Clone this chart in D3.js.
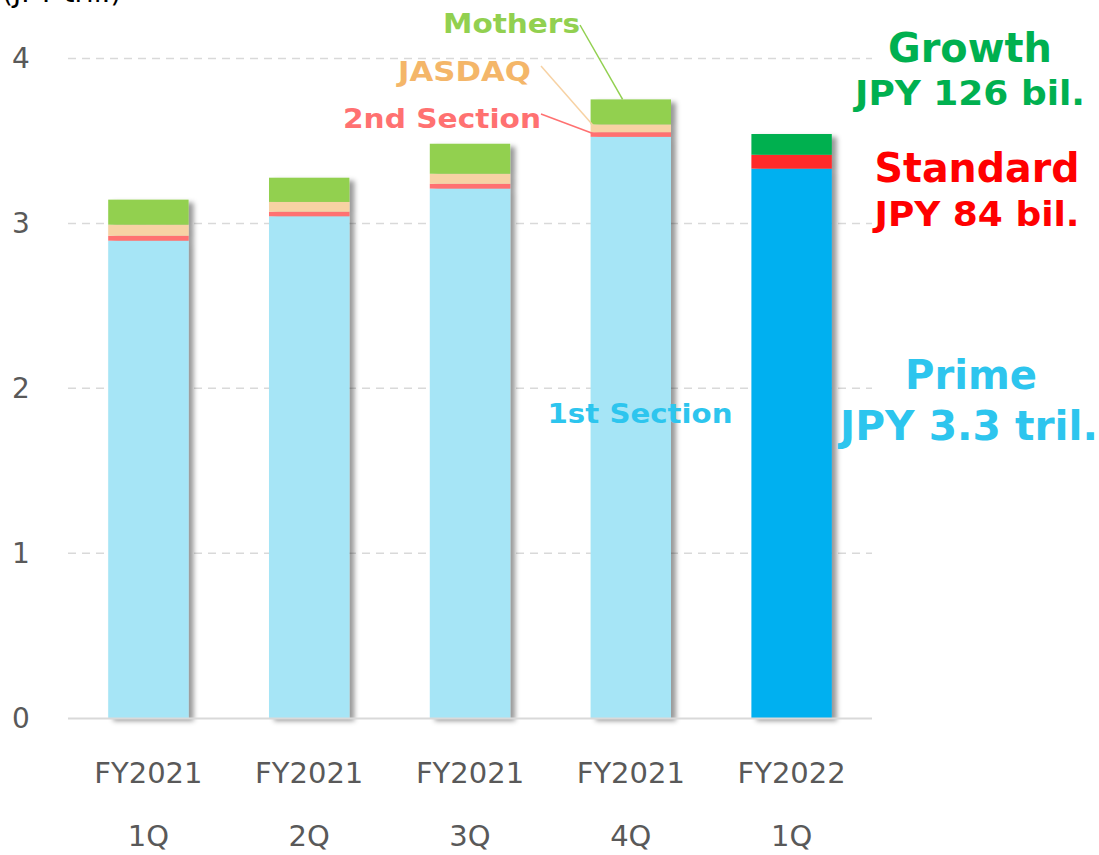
<!DOCTYPE html>
<html>
<head>
<meta charset="utf-8">
<script src="https://cdn.jsdelivr.net/npm/d3@7"></script>
<style>
  body { margin: 0; background: #fff; }
  text { font-family: "DejaVu Sans", Verdana, sans-serif; }
</style>
</head>
<body>
<div id="chart"></div>
<script>
// quarter labels (two lines each)
var categories = ["FY2021 1Q", "FY2021 2Q", "FY2021 3Q", "FY2021 4Q", "FY2022 1Q"];
var catLine1 = ["FY2021", "FY2021", "FY2021", "FY2021", "FY2022"];
var catLine2 = ["1Q", "2Q", "3Q", "4Q", "1Q"];

// JPY tril., old market segments
var firstSection = [2.895, 3.043, 3.211, 3.525, 0];
var secondSection = [0.030, 0.028, 0.029, 0.028, 0];
var jasdaq = [0.067, 0.059, 0.061, 0.047, 0];
var mothers = [0.152, 0.147, 0.182, 0.152, 0];
// new market segments
var prime = [0, 0, 0, 0, 3.332];
var standard = [0, 0, 0, 0, 0.084];
var growth = [0, 0, 0, 0, 0.126];

var yTicks = [0, 1, 2, 3, 4];

var svgWidth = 1099;
var svgHeight = 855;

var svg = d3.select("#chart")
  .append("svg")
  .attr("width", svgWidth)
  .attr("height", svgHeight);

// drop shadow like the original
var defs = svg.append("defs");
defs.append("filter")
  .attr("id", "shadow")
  .attr("x", "-20%").attr("y", "-20%")
  .attr("width", "150%").attr("height", "150%")
  .append("feDropShadow")
  .attr("dx", 5)
  .attr("dy", 3)
  .attr("stdDeviation", 2.5)
  .attr("flood-color", "#000")
  .attr("flood-opacity", 0.4);

var keys = ["firstSection", "secondSection", "jasdaq", "mothers", "prime", "standard", "growth"];
var colors = {
  firstSection: "#A6E5F6",
  secondSection: "#FF7171",
  jasdaq: "#F7D2A4",
  mothers: "#92D050",
  prime: "#00B0F0",
  standard: "#FF2A2A",
  growth: "#00B050"
};

var table = categories.map(function(c, i) {
  return {
    cat: c,
    firstSection: firstSection[i],
    secondSection: secondSection[i],
    jasdaq: jasdaq[i],
    mothers: mothers[i],
    prime: prime[i],
    standard: standard[i],
    growth: growth[i]
  };
});

var x = d3.scaleBand()
  .domain(categories)
  .range([68, 872])
  .paddingInner(0.5)
  .paddingOuter(0.25);

var y = d3.scaleLinear()
  .domain([0, 4])
  .range([718, 58.5]);

// gridlines
svg.append("g")
  .selectAll("line")
  .data(yTicks.filter(function(t) { return t > 0; }))
  .enter()
  .append("line")
  .attr("x1", 68)
  .attr("x2", 872)
  .attr("y1", function(d) { return y(d); })
  .attr("y2", function(d) { return y(d); })
  .attr("stroke", "#D9D9D9")
  .attr("stroke-width", 1.5)
  .attr("stroke-dasharray", "8,6");

// y tick labels
svg.append("g")
  .selectAll("text")
  .data(yTicks)
  .enter()
  .append("text")
  .attr("x", 21)
  .attr("y", function(d) { return y(d); })
  .attr("dy", "0.35em")
  .attr("text-anchor", "middle")
  .attr("fill", "#595959")
  .attr("font-size", 28)
  .text(function(d) { return d; });

// stacked bars
var series = d3.stack().keys(keys)(table);

var cols = svg.append("g")
  .selectAll("g")
  .data(table)
  .enter()
  .append("g")
  .attr("filter", "url(#shadow)");

cols.selectAll("rect")
  .data(function(d, i) {
    return series.map(function(s) {
      return { key: s.key, y0: s[i][0], y1: s[i][1], cat: d.cat };
    }).filter(function(p) { return p.y1 > p.y0; });
  })
  .enter()
  .append("rect")
  .attr("x", function(d) { return x(d.cat); })
  .attr("width", x.bandwidth())
  .attr("y", function(d) { return y(d.y1); })
  .attr("height", function(d) { return y(d.y0) - y(d.y1); })
  .attr("fill", function(d) { return colors[d.key]; });

// baseline
svg.append("line")
  .attr("x1", 68)
  .attr("x2", 872)
  .attr("y1", y(0) + 0.5)
  .attr("y2", y(0) + 0.5)
  .attr("stroke", "#D9D9D9")
  .attr("stroke-width", 2);

// x axis labels
var xAxis = svg.append("g")
  .attr("transform", "translate(0, " + y(0) + ")")
  .call(d3.axisBottom(x).tickSize(0).tickFormat(""));
xAxis.select(".domain").remove();
xAxis.selectAll(".tick text").remove();
xAxis.selectAll(".tick").each(function(d, i) {
  var t = d3.select(this).append("text")
    .attr("fill", "#595959")
    .attr("font-size", 29)
    .attr("text-anchor", "middle")
    .attr("font-family", "DejaVu Sans, Verdana, sans-serif");
  t.append("tspan").attr("x", 0).attr("y", 65).text(catLine1[i]);
  t.append("tspan").attr("x", 0).attr("y", 128).text(catLine2[i]);
});

// unit label (mostly above the top edge, as in the original)
svg.append("text")
  .attr("x", 2)
  .attr("y", 2)
  .attr("font-size", 28)
  .attr("fill", "#000")
  .text("(JPY tril.)");

// segment call-outs on the FY2021 4Q bar
var xr = x(categories[3]);
function mid(key) {
  var s = series.find(function(s) { return s.key === key; })[3];
  return y((s[0] + s[1]) / 2);
}

var callouts = [
  { text: "Mothers", color: "#92D050", lineColor: "#92D050", tx: 580, ty: 33, lx1: 580, ly1: 25, lx2: xr + 32, ly2: y(series[3][3][1]), w: 137 },
  { text: "JASDAQ", color: "#F4B669", lineColor: "#F7D2A4", tx: 531, ty: 81, lx1: 541, ly1: 66, lx2: xr + 5, ly2: mid("jasdaq"), w: 133 },
  { text: "2nd Section", color: "#FF7171", lineColor: "#FF7171", tx: 541, ty: 128, lx1: 541, ly1: 114, lx2: xr + 5, ly2: mid("secondSection"), w: 198 }
];

callouts.forEach(function(c) {
  svg.append("line")
    .attr("x1", c.lx1).attr("y1", c.ly1)
    .attr("x2", c.lx2).attr("y2", c.ly2)
    .attr("stroke", c.lineColor)
    .attr("stroke-width", 1.5);
  svg.append("text")
    .attr("x", c.tx)
    .attr("y", c.ty)
    .attr("text-anchor", "end")
    .attr("font-weight", "bold")
    .attr("font-size", 27)
    .attr("fill", c.color)
    .attr("textLength", c.w)
    .attr("lengthAdjust", "spacingAndGlyphs")
    .text(c.text);
});

svg.append("text")
  .attr("x", 640)
  .attr("y", 423)
  .attr("text-anchor", "middle")
  .attr("font-weight", "bold")
  .attr("font-size", 27)
  .attr("fill", "#2DC5EE")
  .attr("textLength", 185)
  .attr("lengthAdjust", "spacingAndGlyphs")
  .text("1st Section");

// new segment labels on the right
var rightLabels = [
  { text: "Growth", color: "#00B050", cx: 970, y: 62, size: 41, w: 164 },
  { text: "JPY 126 bil.", color: "#00B050", cx: 970, y: 105, size: 33, w: 230 },
  { text: "Standard", color: "#FF0000", cx: 977, y: 182, size: 41, w: 205 },
  { text: "JPY 84 bil.", color: "#FF0000", cx: 977, y: 226, size: 33, w: 205 },
  { text: "Prime", color: "#2DC5EE", cx: 971, y: 389, size: 41, w: 132 },
  { text: "JPY 3.3 tril.", color: "#2DC5EE", cx: 969, y: 440, size: 40, w: 258 }
];

svg.append("g")
  .selectAll("text")
  .data(rightLabels)
  .enter()
  .append("text")
  .attr("x", function(d) { return d.cx; })
  .attr("y", function(d) { return d.y; })
  .attr("text-anchor", "middle")
  .attr("font-weight", "bold")
  .attr("font-size", function(d) { return d.size; })
  .attr("fill", function(d) { return d.color; })
  .attr("textLength", function(d) { return d.w; })
  .attr("lengthAdjust", "spacingAndGlyphs")
  .text(function(d) { return d.text; });
</script>
</body>
</html>
